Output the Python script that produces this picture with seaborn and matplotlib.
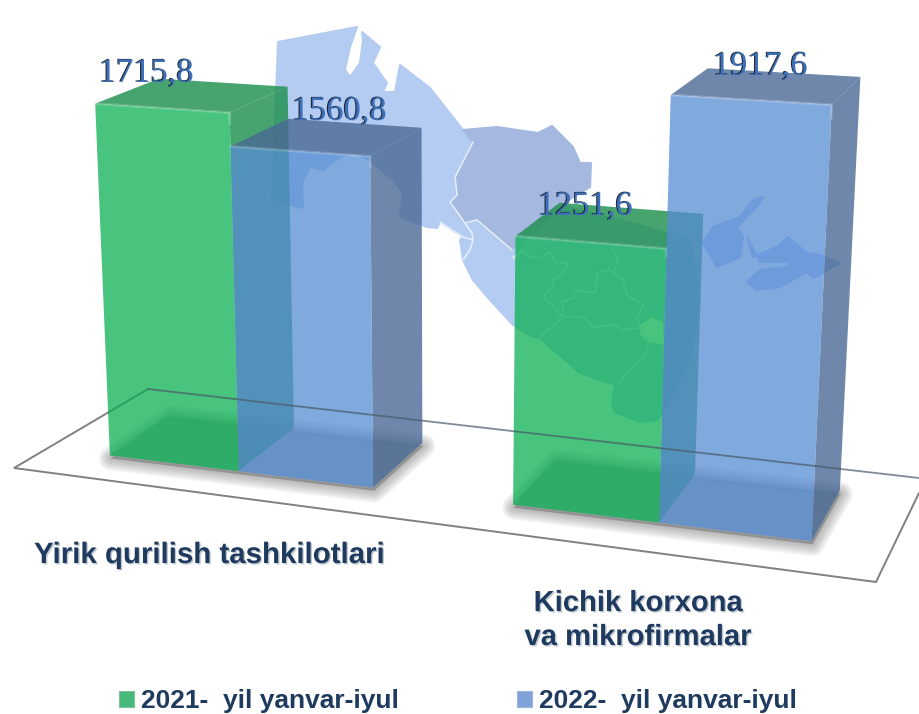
#!/usr/bin/env python3

import numpy as np
import pandas as pd
import matplotlib
matplotlib.use('Agg')
import matplotlib.pyplot as plt
import matplotlib.patheffects as pe
from matplotlib.patches import Patch, Polygon
from matplotlib.transforms import Transform
import seaborn as sns

groups = ['Yirik qurilish tashkilotlari', 'Kichik korxona\nva mikrofirmalar']
year_labels = ['2021-  yil yanvar-iyul', '2022-  yil yanvar-iyul']
values_2021 = [1715.8, 1251.6]
values_2022 = [1560.8, 1917.6]
value_labels = ['1715,8', '1251,6', '1560,8', '1917,6']

# where the value labels and group names sit, in picture pixels
label_xy = [(99, 82), (538, 215), (292, 120), (713, 75)]
group_xy = [(34, 563), (638, 645)]

BAR_W = 1 / 3
GREEN, BLUE = '#0AB054', '#568CD4'
GREEN_DARK, BLUE_DARK = '#1A8E4B', '#4A6995'
NAVY = '#1F3A5F'
NUM_BLUE = '#3D70B8'

# camera: (bar x, value, depth) -> picture pixel, used to fit the perspective
g1, g2 = values_2021
b1, b2 = values_2022
cam_points = [
    (-BAR_W, 0, 0, 110, 456), (0, 0, 0, 241, 472), (BAR_W, 0, 0, 376, 488),
    (2 * BAR_W, 0, 0, 511, 507), (1, 0, 0, 659, 524), (4 * BAR_W, 0, 0, 812, 545),
    (-BAR_W, g1, 0, 96, 102), (0, g1, 0, 230, 110), (0, b1, 0, 233, 145),
    (BAR_W, b1, 0, 372, 157), (2 * BAR_W, g2, 0, 512, 237), (1, g2, 0, 663, 247),
    (1, b2, 0, 669, 93), (4 * BAR_W, b2, 0, 831, 103),
    (-BAR_W, g1, 1, 152, 81), (0, g1, 1, 290, 87), (0, b1, 1, 291, 121),
    (BAR_W, b1, 1, 426, 129), (BAR_W, 0, 1, 427, 442), (0, 0, 1, 297, 428),
    (-BAR_W, 0, 1, 165, 412), (2 * BAR_W, g2, 1, 553, 205), (1, g2, 1, 703, 215),
    (1, b2, 1, 712, 68), (4 * BAR_W, b2, 1, 861, 78), (4 * BAR_W, 0, 1, 842, 488),
    (1, 0, 1, 696, 473), (2 * BAR_W, 0, 1, 550, 455),
]


def fit_camera(points):
    rows, rhs = [], []
    for x, y, z, u, v in points:
        y = y / 1000
        rows.append([x, y, z, 1, 0, 0, 0, 0, -u * x, -u * y, -u * z])
        rows.append([0, 0, 0, 0, x, y, z, 1, -v * x, -v * y, -v * z])
        rhs += [u, v]
    p = np.linalg.lstsq(np.array(rows, float), np.array(rhs, float), rcond=None)[0]
    return np.append(p, 1).reshape(3, 4)


CAM = fit_camera(cam_points)


def project(x, y, z=0):
    x = np.asarray(x, float)
    y = np.asarray(y, float) / 1000
    z = np.full_like(x, z) if np.isscalar(z) else np.asarray(z, float)
    h = CAM @ np.stack([x, y, z, np.ones_like(x)])
    return np.stack([h[0] / h[2], h[1] / h[2]], axis=-1)


# lets the seaborn bars themselves be drawn in perspective
class FrontFace(Transform):
    input_dims = 2
    output_dims = 2

    def transform_non_affine(self, values):
        values = np.asarray(values, float)
        return project(values[:, 0], values[:, 1])


# map outline
map_north = [(278, 42), (357, 27), (350, 47), (345, 70), (350, 77), (360, 63), (363, 40), (362, 32),
             (380, 47), (373, 63), (387, 83), (383, 92), (395, 92), (400, 65), (430, 88), (463, 130),
             (473, 142), (455, 177), (457, 195), (450, 202), (472, 233), (473, 240), (463, 237),
             (440, 222), (437, 228), (427, 227), (400, 217), (403, 193), (393, 180), (370, 160),
             (353, 152), (340, 157), (323, 170), (310, 167), (302, 183), (303, 208), (272, 200)]
map_middle = [(473, 142), (455, 177), (457, 195), (450, 202), (465, 223), (477, 220), (512, 250),
              (530, 235), (560, 205), (590, 187), (591, 163), (580, 163), (573, 147), (552, 126),
              (538, 133), (497, 127), (463, 130)]
map_south = [(450, 202), (472, 233), (473, 240), (463, 237), (460, 240), (463, 260), (473, 280),
             (490, 300), (513, 325), (533, 337), (540, 338), (580, 373), (615, 385), (612, 403),
             (615, 412), (640, 422), (657, 420), (668, 405), (690, 360), (700, 300), (690, 240),
             (640, 225), (560, 205), (512, 250), (477, 220), (465, 223)]
map_hole = [(640, 325), (652, 317), (663, 322), (664, 345), (648, 342), (640, 335)]
map_east_a = [(763, 197), (753, 200), (740, 217), (713, 227), (703, 243), (717, 267), (740, 257),
              (743, 237), (737, 227), (760, 203)]
map_east_b = [(747, 237), (753, 257), (777, 247), (788, 237), (807, 253), (820, 255), (840, 263),
              (823, 273), (813, 278), (807, 272), (780, 287), (757, 290), (747, 282), (760, 270),
              (787, 267), (790, 262), (760, 262)]
map_borders = [
    [(513, 258), (523, 250), (528, 257), (540, 258), (550, 252), (555, 262), (568, 263), (563, 273),
     (553, 280), (553, 285), (543, 297), (555, 308), (563, 317), (540, 337)],
    [(563, 317), (583, 317), (593, 327), (613, 325), (623, 330), (640, 328), (648, 342)],
    [(563, 315), (562, 302), (573, 298), (575, 290), (595, 293), (598, 272), (610, 270), (623, 280),
     (627, 295), (643, 305), (637, 318), (640, 328)],
    [(612, 247), (618, 258), (615, 270)],
    [(648, 343), (645, 357), (632, 367), (617, 385)],
]
border_lines = [
    [(473, 142), (455, 177), (457, 195), (450, 202), (472, 233), (473, 240), (470, 250), (463, 260)],
    [(440, 222), (463, 237), (473, 240)],
    [(465, 223), (477, 220), (512, 250)],
]

sns.set_style('white')
plt.rcParams['font.family'] = ['Liberation Sans', 'DejaVu Sans']

fig = plt.figure(figsize=(9.19, 7.14), dpi=100)
bg = fig.add_axes([0, 0, 1, 1])
bg.set_xlim(0, 919)
bg.set_ylim(714, 0)
bg.axis('off')

for pts, col in [(map_north, '#B4CCF2'), (map_south, '#B4CCF2'), (map_middle, '#A5B8E0'),
                 (map_east_a, '#B4C8F4'), (map_east_b, '#B4C8F4')]:
    bg.add_patch(Polygon(pts, closed=True, fc=col, ec=col, lw=1.5, joinstyle='round', zorder=1))
bg.add_patch(Polygon(map_hole, closed=True, fc='white', ec='none', zorder=1.5))
for line in map_borders + border_lines:
    xs, ys = zip(*line)
    bg.plot(xs, ys, color='#E4EEFB', lw=1.2, zorder=2)

df = pd.DataFrame({
    'group': groups * 2,
    'year': [year_labels[0]] * 2 + [year_labels[1]] * 2,
    'value': values_2021 + values_2022,
})

ax = fig.add_axes([0, 0, 1, 1], facecolor='none')
sns.barplot(data=df, x='group', y='value', hue='year', hue_order=year_labels,
            palette=[GREEN, BLUE], width=2 / 3, gap=0, saturation=1, alpha=0.75,
            linewidth=0, legend=False, ax=ax)
ax.axis('off')

# soft shadow on the floor under each pair of bars
bars = sorted(ax.patches, key=lambda p: p.get_x())
to_px = bg.transData
for left, right in [(bars[0], bars[1]), (bars[2], bars[3])]:
    x0, x1 = left.get_x(), right.get_x() + right.get_width()
    foot = project([x0, x1, x1, x0], [0, 0, 0, 0], [0, 0, 1, 1]) + np.array([1, 3])
    for lw in range(17, 0, -3):
        bg.add_patch(Polygon(foot, closed=True, fc='#555555', ec='#555555', lw=lw, alpha=0.08,
                             joinstyle='round', zorder=3))

# floor frame
floor_back = [(148, 389), (919, 478)]
floor_rest = [(919, 493), (876, 582), (14, 468), (148, 389)]
xs, ys = zip(*floor_rest)
bg.plot(xs, ys, color='#808080', lw=1.4, zorder=4, solid_joinstyle='miter')
xs, ys = zip(*floor_back)
ax.plot(xs, ys, color='#4A5A68', lw=1.3, alpha=0.7, zorder=60, transform=to_px, clip_on=False)

front = FrontFace() + to_px
for i, bar in enumerate(bars):
    x0, x1 = bar.get_x(), bar.get_x() + bar.get_width()
    h = bar.get_height()
    dark = GREEN_DARK if i in (0, 2) else BLUE_DARK
    z = 10 + 5 * i

    # inner floor of the bar, fading out towards the back
    for depth, a in [(1.0, 0.3), (0.95, 0.4), (0.9, 0.5), (0.85, 1.0)]:
        bottom = project([x0, x1, x1, x0], [0, 0, 0, 0], [0, 0, depth, depth])
        ax.add_patch(Polygon(bottom, closed=True, fc='#9DA6A3', ec='none', alpha=a,
                             transform=to_px, zorder=z, clip_on=False))
    side = project([x1, x1, x1, x1], [0, h, h, 0], [0, 0, 1, 1])
    top = project([x0, x1, x1, x0], [h, h, h, h], [0, 0, 1, 1])
    ax.add_patch(Polygon(side, closed=True, fc=dark, ec='none', alpha=0.8, transform=to_px, zorder=z + 1, clip_on=False))
    ax.add_patch(Polygon(top, closed=True, fc=dark, ec='none', alpha=0.8, transform=to_px, zorder=z + 1, clip_on=False))

    bar.set_transform(front)
    bar.set_clip_on(False)
    bar.set_zorder(z + 2)

    # light bevel along the top and right edge of the front face
    edge = project([x0, x1, x1], [h, h, h * 0.97])
    ax.plot(edge[:, 0], edge[:, 1], color='white', lw=2, alpha=0.18, transform=to_px,
            zorder=z + 3, clip_on=False, solid_capstyle='round')

num_fx = [pe.withSimplePatchShadow(offset=(-0.8, 0.4), shadow_rgbFace='#0C1420', alpha=0.9)]
for txt, (px, py) in zip(value_labels, label_xy):
    ax.text(px, py, txt, transform=to_px, family='Liberation Serif', fontsize=24.8, color=NUM_BLUE,
            ha='left', va='baseline', zorder=70, path_effects=num_fx, clip_on=False)

name_fx = [pe.withSimplePatchShadow(offset=(1, -1), shadow_rgbFace='#8090A0', alpha=0.5)]
ax.text(group_xy[0][0], group_xy[0][1], groups[0], transform=to_px, fontsize=21.2, fontweight='bold',
        color=NAVY, ha='left', va='baseline', zorder=70, path_effects=name_fx)
ax.text(group_xy[1][0], group_xy[1][1], groups[1], transform=to_px, fontsize=21, fontweight='bold',
        color=NAVY, ha='center', va='baseline', linespacing=1.27, zorder=70, path_effects=name_fx)

handles = [Patch(fc='#45B87A', ec='#7FBF9A', lw=0.8), Patch(fc='#7FA3D8', ec='#9DB5DA', lw=0.8)]
leg = ax.legend(handles, year_labels, ncol=2, loc='lower left', bbox_to_anchor=(119 / 919, 1 / 714),
                bbox_transform=fig.transFigure, frameon=False, borderpad=0, borderaxespad=0,
                handlelength=0.57, handleheight=0.57, handletextpad=0.27, columnspacing=4.47,
                prop={'family': 'Liberation Sans', 'weight': 'bold', 'size': 19}, labelcolor=NAVY)
leg.set_zorder(70)

fig.savefig('out.png', dpi=100)
plt.close(fig)
